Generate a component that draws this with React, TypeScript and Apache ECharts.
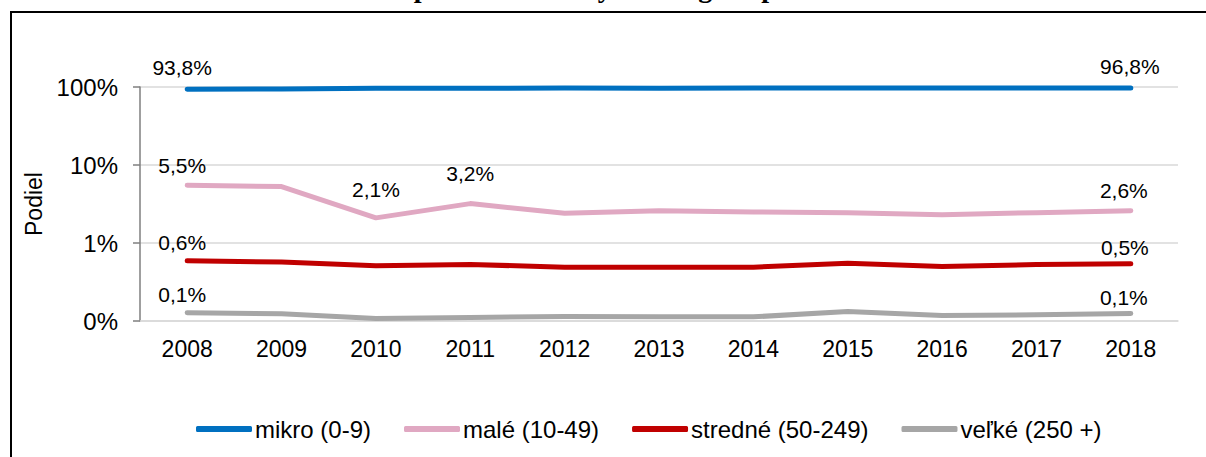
import React, { useEffect, useRef } from "react";
import * as echarts from "echarts";

const years = ["2008", "2009", "2010", "2011", "2012", "2013", "2014", "2015", "2016", "2017", "2018"];
const seriesNames = ["mikro (0-9)", "malé (10-49)", "stredné (50-249)", "veľké (250 +)"];
const mikro = [93.8, 94.2, 96.4, 96.2, 96.8, 96.7, 96.8, 96.8, 97.0, 96.8, 96.8];
const male = [5.5, 5.3, 2.1, 3.2, 2.4, 2.6, 2.5, 2.45, 2.3, 2.45, 2.6];
const stredne = [0.59, 0.57, 0.51, 0.53, 0.49, 0.49, 0.49, 0.55, 0.5, 0.53, 0.54];
const velke = [0.128, 0.124, 0.108, 0.111, 0.114, 0.113, 0.113, 0.132, 0.118, 0.12, 0.125];
const labeledPoints = [[0, 10], [0, 2, 3, 10], [0, 10], [0, 10]];
const titleText = "Graf 1 Štruktúra MSP podľa veľkostných kategórií podnikov";

const colors = ["#0070C0", "#E0A8C2", "#C00000", "#A6A6A6"];
const FONT = "'Liberation Sans', Arial, sans-serif";

// label placement (style): distance above point and horizontal offset
const labelStyle: Record<string, { d: number; dx: number }> = {
  "0-0": { d: 11, dx: -5 },
  "0-10": { d: 11, dx: -1 },
  "1-0": { d: 9, dx: -5 },
  "1-2": { d: 17, dx: 0 },
  "1-3": { d: 19, dx: 0 },
  "1-10": { d: 9, dx: -7 },
  "2-0": { d: 7, dx: -5 },
  "2-10": { d: 5, dx: -6 },
  "3-0": { d: 7, dx: -5 },
  "3-10": { d: 5, dx: -7 },
};

const fmt = (v: number) => v.toFixed(1).replace(".", ",") + "%";

export default function App() {
  const ref = useRef<HTMLDivElement>(null);
  useEffect(() => {
    if (!ref.current) return;
    const chart = echarts.init(ref.current, null, { renderer: "svg" });
    const all = [mikro, male, stredne, velke];
    const series = all.map((vals, si) => ({
      name: seriesNames[si],
      type: "line",
      symbol: "circle",
      symbolSize: 1,
      showSymbol: true,
      color: colors[si],
      itemStyle: { color: colors[si] },
      lineStyle: { color: colors[si], width: 5, cap: "round", join: "round" },
      emphasis: { disabled: true },
      z: 10 - si,
      data: vals.map((v, i) => {
        if (!labeledPoints[si].includes(i)) return v;
        const ls = labelStyle[si + "-" + i] || { d: 8, dx: 0 };
        return {
          value: v,
          label: {
            show: true,
            position: "top",
            distance: ls.d,
            offset: [ls.dx, 0],
            formatter: (p: any) => fmt(p.value),
            color: "#000",
            fontSize: 21,
            fontFamily: FONT,
          },
        };
      }),
    }));
    chart.setOption({
      animation: false,
      backgroundColor: "#fff",
      grid: { left: 140, right: 28, top: 87, bottom: 136, containLabel: false },
      legend: {
        left: 196,
        top: 417,
        padding: 0,
        icon: "roundRect",
        itemWidth: 56,
        itemHeight: 6,
        itemGap: 33,
        textStyle: { fontSize: 24, fontFamily: FONT, color: "#000", padding: [0, 0, 0, -2] },
        data: seriesNames,
      },
      xAxis: {
        type: "category",
        data: years,
        boundaryGap: true,
        axisLine: { lineStyle: { color: "#D9D9D9", width: 1.5 } },
        axisTick: { show: false },
        axisLabel: { fontSize: 23, fontFamily: FONT, color: "#000", margin: 16 },
      },
      yAxis: {
        type: "log",
        logBase: 10,
        min: 0.1,
        max: 100,
        name: "Podiel",
        nameLocation: "middle",
        nameGap: 84,
        nameTextStyle: { fontSize: 23, fontFamily: FONT, color: "#000" },
        axisLine: { show: true, lineStyle: { color: "#7F7F7F", width: 1.5 } },
        axisTick: { show: true, length: 7, inside: false, lineStyle: { color: "#7F7F7F", width: 1.5 } },
        axisLabel: {
          fontSize: 24,
          fontFamily: FONT,
          color: "#000",
          margin: 22,
          formatter: (v: number) => Math.round(v) + "%",
        },
        splitLine: { show: true, lineStyle: { color: "#D9D9D9", width: 1.5 } },
      },
      graphic: [
        {
          type: "rect",
          shape: { x: 11, y: 12, width: 1220, height: 470 },
          style: { fill: "none", stroke: "#000", lineWidth: 2 },
          silent: true,
        },
        {
          type: "text",
          x: 505,
          y: -13,
          style: {
            text: titleText,
            font: "bold 28px 'Liberation Serif', 'Times New Roman', serif",
            fill: "#000",
            textAlign: "center",
            textVerticalAlign: "middle",
          },
          silent: true,
        },
      ],
      series,
    });
    return () => chart.dispose();
  }, []);
  return (
    <div
      ref={ref}
      style={{ position: "fixed", left: 0, top: 0, width: 1206, height: 457 }}
    />
  );
}
